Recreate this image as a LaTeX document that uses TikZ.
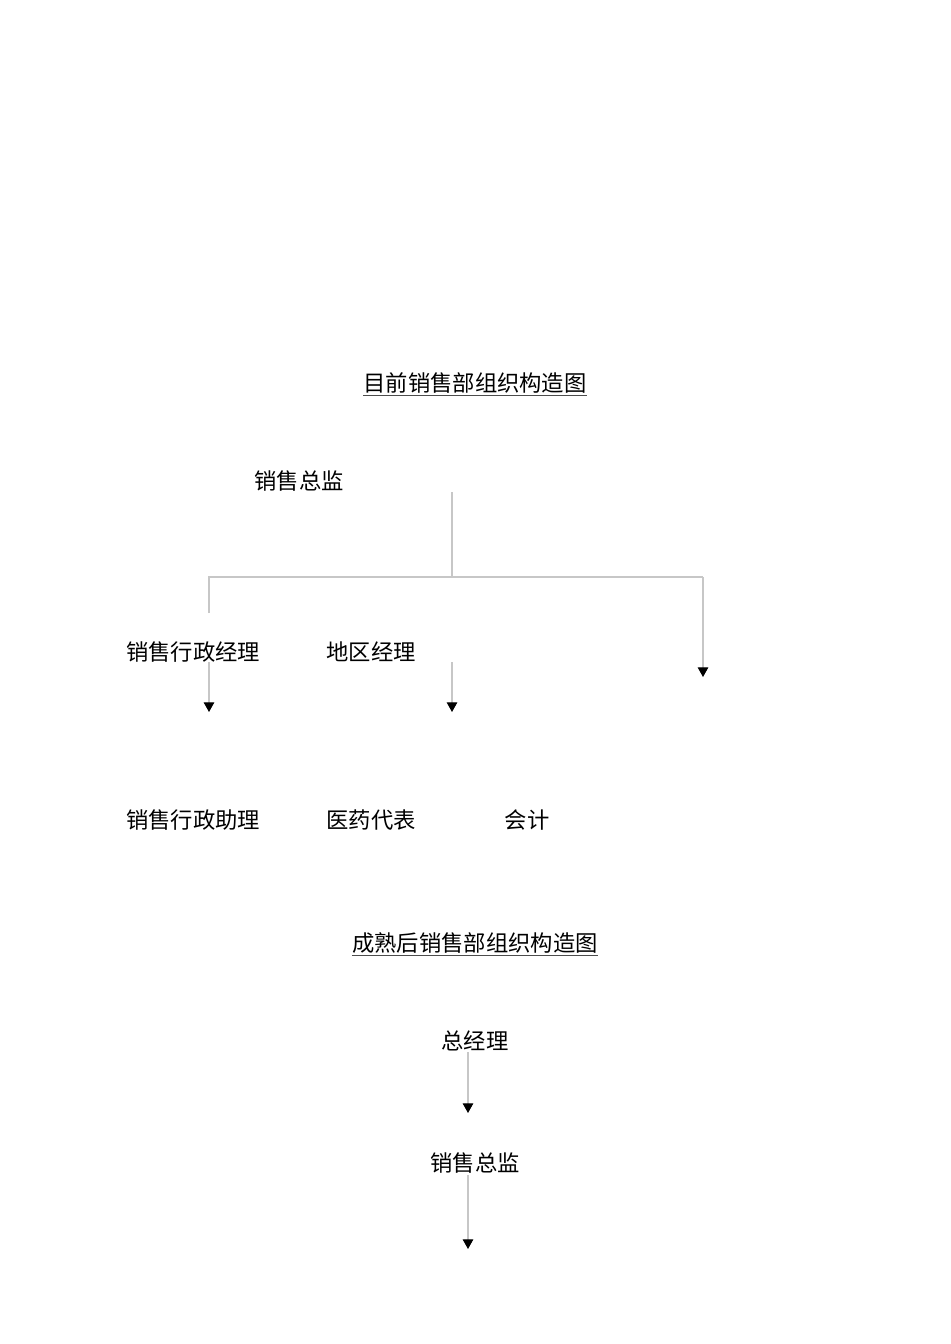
\documentclass[tikz,border=0pt]{standalone}
\usepackage{fontspec}
\newfontfamily\cjk{Noto Sans CJK SC}
\usetikzlibrary{arrows.meta}

\begin{document}
\begin{tikzpicture}[x=0.02cm,y=-0.02cm,font=\cjk\fontsize{12.7pt}{15pt}\selectfont,
  lbl/.style={inner sep=0pt},
  link/.style={draw=black!22,line width=0.6pt},
  tip/.style={link,-{Triangle[black,length=5.5pt,width=6pt]}}]
\useasboundingbox (0,0) rectangle (950,1344);

% Current structure
\node[lbl] (title1) at (475,383) {目前销售部组织构造图};
\draw[black!70,line width=0.6pt] ([yshift=-1pt]title1.south west) -- ([yshift=-1pt]title1.south east);
\node[lbl] (dir) at (299,481) {销售总监};
\node[lbl] (admmgr) at (193,652) {销售行政经理};
\node[lbl] (regmgr) at (371,652) {地区经理};
\node[lbl] (admasst) at (193,820) {销售行政助理};
\node[lbl] (medrep) at (371,820) {医药代表};
\node[lbl] (acct) at (527,820) {会计};

\coordinate (dirout) at (452,492);
\coordinate (bus) at (452,577);
\coordinate (busl) at (209,577);
\coordinate (busr) at (703,577);
\coordinate (admin) at (209,613);
\coordinate (accin) at (703,677);
\coordinate (admout) at (209,662);
\coordinate (asstin) at (209,712);
\coordinate (regout) at (452,662);
\coordinate (repin) at (452,712);

\draw[link] (dirout) -- (bus);
\draw[link] (admin) -- (busl) -- (busr);
\draw[tip] (busr) -- (accin);
\draw[tip] (admout) -- (asstin);
\draw[tip] (regout) -- (repin);

% Mature structure
\node[lbl] (title2) at (475,943) {成熟后销售部组织构造图};
\draw[black!70,line width=0.6pt] ([yshift=-1pt]title2.south west) -- ([yshift=-1pt]title2.south east);
\node[lbl] (gm) at (475,1041) {总经理};
\node[lbl] (dir2) at (475,1163) {销售总监};

\coordinate (gmout) at (468,1052);
\coordinate (dirin) at (468,1113);
\coordinate (dir2out) at (468,1175);
\coordinate (nextin) at (468,1249);
\draw[tip] (gmout) -- (dirin);
\draw[tip] (dir2out) -- (nextin);
\end{tikzpicture}
\end{document}
